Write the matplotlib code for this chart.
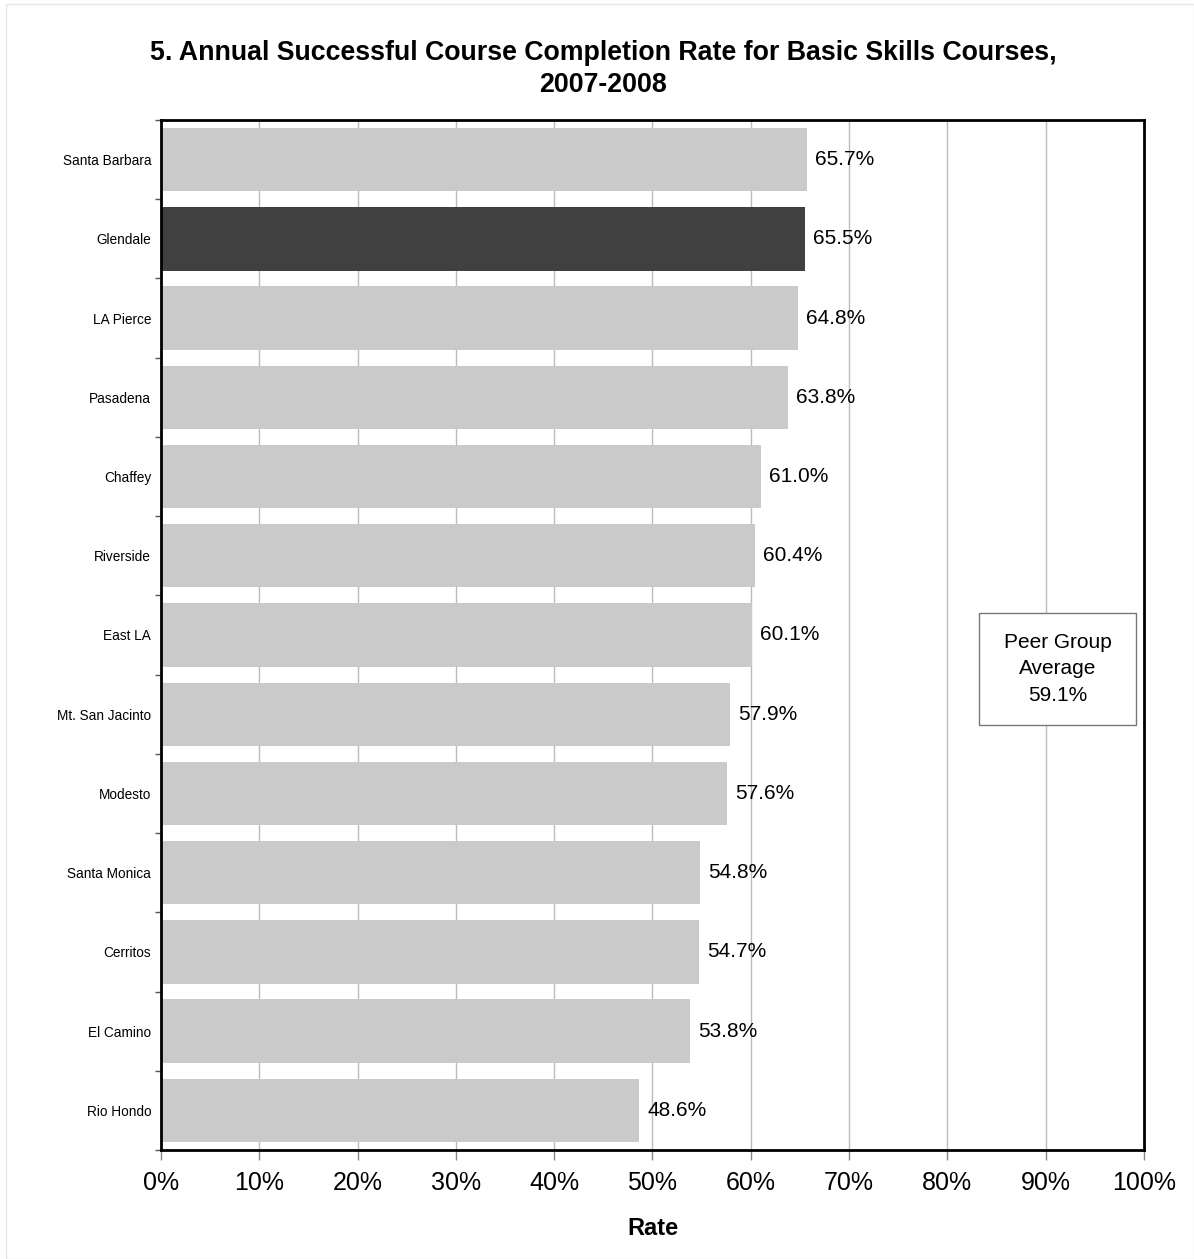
import numpy as np
import matplotlib
matplotlib.use("Agg")
from matplotlib import pyplot as plt
from matplotlib.patches import Rectangle

plt.rcParams['font.family'] = ['Liberation Sans', 'DejaVu Sans']

# dados
colleges = ["Santa Barbara", "Glendale", "LA Pierce", "Pasadena", "Chaffey",
            "Riverside", "East LA", "Mt. San Jacinto", "Modesto",
            "Santa Monica", "Cerritos", "El Camino", "Rio Hondo"]
rates = [65.7, 65.5, 64.8, 63.8, 61.0, 60.4, 60.1, 57.9, 57.6,
         54.8, 54.7, 53.8, 48.6]
highlight = "Glendale"
peer_avg = 59.1
x_ticks = np.arange(0, 101, 10)

fig = plt.figure(figsize=(11.94, 12.59), dpi=100)
ax = fig.add_axes([0.1348, 0.0866, 0.8233, 0.8181])

# borda clara em volta da figura
fig.patches.append(Rectangle((0.005, 0.0), 0.995, 0.997, transform=fig.transFigure,
                             fill=False, edgecolor='#e6e6e6', linewidth=1))

y = np.arange(len(colleges))
cores = ['#404040' if c == highlight else '#cacaca' for c in colleges]
ax.barh(y, rates, height=0.8, color=cores, zorder=2)

for i, v in enumerate(rates):
    ax.annotate("%.1f%%" % v, (v, i), xytext=(6, 0), textcoords='offset points',
                va='center', ha='left', fontsize=15)

ax.set_xlim(0, 100)
ax.set_ylim(len(colleges) - 0.5, -0.5)
ax.set_xticks(x_ticks)
ax.set_xticklabels(["%d%%" % t for t in x_ticks], fontsize=18)
ax.set_yticks(y)
ax.set_yticklabels(colleges, fontsize=9.8)
ax.set_yticks(np.arange(-0.5, len(colleges), 1), minor=True)
ax.tick_params(axis='y', which='major', length=0, pad=7)
ax.tick_params(axis='y', which='minor', length=4, width=1, color='#555555')
ax.tick_params(axis='x', length=7, width=1, color='#888888', pad=8)
ax.grid(axis='x', color='#bbbbbb', linewidth=1, zorder=0)
ax.set_axisbelow(True)
for s in ax.spines.values():
    s.set_linewidth(2)
    s.set_color('black')

ax.set_xlabel("Rate", fontsize=17, fontweight='bold', labelpad=16)
fig.suptitle("5. Annual Successful Course Completion Rate for Basic Skills Courses,\n2007-2008",
             fontsize=19.3, fontweight='bold', x=0.505, y=0.968, linespacing=1.3)

# caixa da media do grupo
ax.add_patch(Rectangle((0.832, 0.413), 0.160, 0.108, transform=ax.transAxes,
                       facecolor='white', edgecolor='#777777', linewidth=1, zorder=5))
ax.text(0.912, 0.467, "Peer Group\nAverage\n%.1f%%" % peer_avg, transform=ax.transAxes,
        ha='center', va='center', fontsize=15, linespacing=1.5, zorder=6)

fig.savefig("out.png", dpi=100)
